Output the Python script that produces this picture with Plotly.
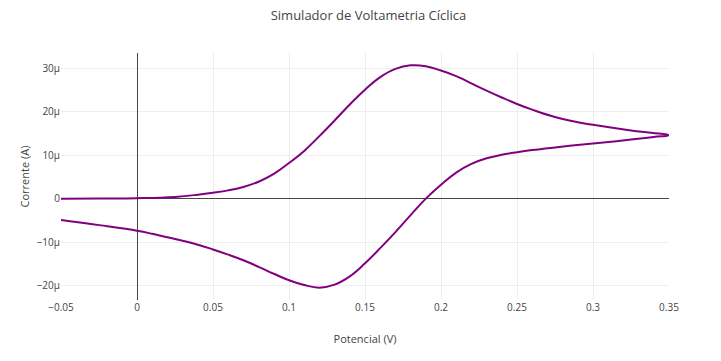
import plotly.graph_objects as go

# Forward scan (oxidation branch), potential in V, current in µA
potential_forward = [-0.05, -0.025, 0.0, 0.025, 0.04, 0.05, 0.06, 0.07, 0.08, 0.09, 0.1,
                     0.11, 0.12, 0.13, 0.14, 0.15, 0.16, 0.17, 0.18, 0.19, 0.2, 0.21,
                     0.225, 0.24, 0.25, 0.26, 0.275, 0.29, 0.3, 0.325, 0.35]
current_forward_uA = [0.0, 0.03, 0.1, 0.4, 0.9, 1.35, 1.9, 2.7, 3.9, 5.7, 8.2,
                      11.0, 14.4, 18.0, 21.7, 25.1, 28.0, 29.9, 30.7, 30.5, 29.5, 28.2,
                      25.7, 23.3, 21.8, 20.5, 18.8, 17.6, 17.0, 15.7, 14.6]

# Reverse scan (reduction branch)
potential_reverse = [0.34, 0.325, 0.3, 0.275, 0.26, 0.25, 0.24, 0.23, 0.22, 0.21, 0.2,
                     0.19, 0.18, 0.17, 0.16, 0.15, 0.14, 0.13, 0.12, 0.11, 0.1, 0.09,
                     0.08, 0.07, 0.06, 0.05, 0.04, 0.03, 0.02, 0.01, 0.0, -0.025, -0.05]
current_reverse_uA = [14.2, 13.6, 12.7, 11.8, 11.2, 10.7, 10.1, 9.3, 8.0, 6.0, 3.2,
                      0.0, -3.8, -7.7, -11.4, -14.9, -17.9, -19.8, -20.5, -19.9, -18.8, -17.3,
                      -15.7, -14.2, -12.9, -11.7, -10.6, -9.7, -8.9, -8.1, -7.4, -6.1, -4.9]

x = potential_forward + potential_reverse
y = [v * 1e-6 for v in current_forward_uA + current_reverse_uA]

fig = go.Figure()
fig.add_trace(go.Scatter(
    x=x, y=y, mode="lines",
    line=dict(color="#800080", width=2, shape="spline", smoothing=1.2),
    showlegend=False,
))

fig.update_layout(
    template="none",
    width=721, height=361,
    font=dict(family="Open Sans", size=10, color="#444"),
    title=dict(text="Simulador de Voltametria Cíclica", x=0.5, xanchor="center",
               y=1 - 3 / 361, yanchor="top", font=dict(size=13)),
    margin=dict(l=53, r=60, t=45, b=69),
    paper_bgcolor="white", plot_bgcolor="white",
    xaxis=dict(title=dict(text="Potencial (V)", font=dict(size=11)),
               dtick=0.05, gridcolor="#eee", zeroline=True, zerolinecolor="#444",
               zerolinewidth=1, showline=False, ticks=""),
    yaxis=dict(title=dict(text="Corrente (A)", font=dict(size=11)),
               dtick=10e-6, gridcolor="#eee", zeroline=True, zerolinecolor="#444",
               zerolinewidth=1, showline=False, ticks="", exponentformat="SI"),
)

fig.write_html("out.html")
